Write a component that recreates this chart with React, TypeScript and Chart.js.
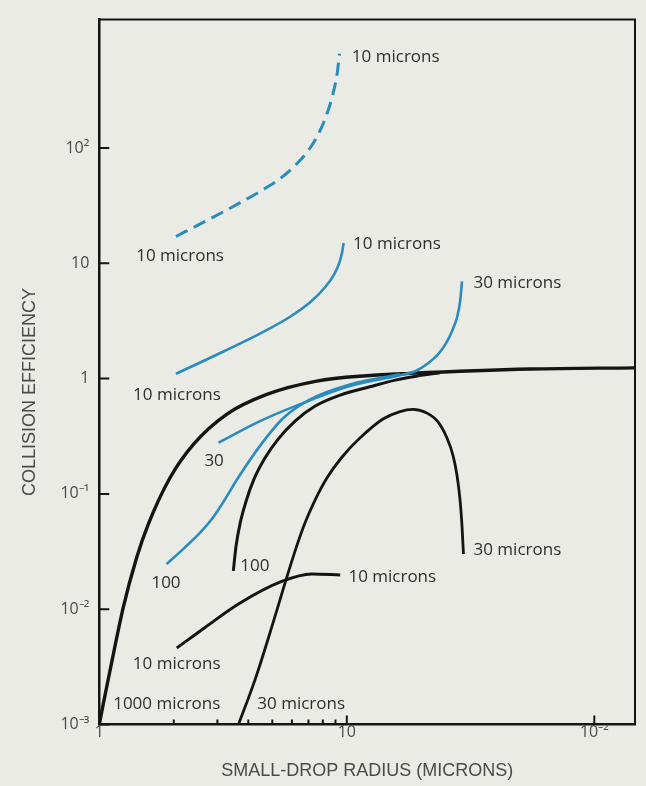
import React, { useEffect, useRef } from 'react';
import { Chart, registerables } from 'chart.js';

Chart.register(...registerables);

// ---- axis ticks ----
const xTickValues = [1, 10, 100];
const xTickLabels = ['1', '10', '10⁻²'];
const xMinorTicks = [2, 3, 4, 5, 6, 7, 8, 9];
const yTickValues = [0.001, 0.01, 0.1, 1, 10, 100];
const yTickLabels = ['10⁻³', '10⁻²', '10⁻¹', '1', '10', '10²'];

// ---- series (small-drop radius, collision efficiency) ----
const blueDashed10X = [2.04, 2.675, 3.54, 4.46, 5.38, 6.24, 7.04, 7.73, 8.32, 8.8, 9.14, 9.35];
const blueDashed10Y = [17.1, 23.1, 31.8, 42.0, 54.4, 72.0, 97.1, 136, 199, 296, 442, 658];

const blue10X = [2.04, 3.16, 4.58, 5.9, 7.11, 8.17, 8.89, 9.31, 9.57, 9.71];
const blue10Y = [1.1, 1.71, 2.53, 3.44, 4.59, 6.2, 8.03, 10.0, 12.4, 15.0];

const blue30X = [3.03, 4.46, 6.68, 10.3, 16.4, 18.9, 21.3, 23.4, 25.2, 26.6, 27.9, 28.7, 29.2];
const blue30Y = [0.278, 0.428, 0.616, 0.861, 1.07, 1.16, 1.36, 1.63, 2.03, 2.58, 3.41, 4.69, 6.98];

const blue100X = [1.87, 2.22, 2.55, 2.855, 3.19, 3.59, 4.46, 5.54, 7.11, 10.3, 16.4];
const blue100Y = [0.0246, 0.0344, 0.0459, 0.0608, 0.0869, 0.132, 0.261, 0.455, 0.661, 0.891, 1.09];

const black1000X = [1.0, 1.04, 1.105, 1.25, 1.416, 1.578, 1.931, 2.4, 3.27, 4.75, 7.56, 12.05, 18.0, 55.1, 146];
const black1000Y = [0.001, 0.00155, 0.00294, 0.01037, 0.0281, 0.0547, 0.138, 0.269, 0.49, 0.729, 0.951, 1.06, 1.11, 1.21, 1.24];

const black100X = [3.48, 3.57, 3.71, 3.92, 4.22, 4.67, 5.28, 6.18, 7.45, 9.4, 12.4, 15.7, 19.1, 23.8];
const black100Y = [0.0215, 0.0355, 0.0561, 0.0869, 0.135, 0.205, 0.299, 0.428, 0.578, 0.72, 0.85, 0.97, 1.05, 1.125];

const black30X = [3.65, 4.26, 4.98, 5.63, 6.24, 6.78, 7.45, 8.32, 9.57, 11.3, 14.0, 16.4, 18.5, 21.1, 23.4, 25.4, 26.9, 27.9, 28.7, 29.2, 29.6];
const black30Y = [0.001, 0.00245, 0.00705, 0.0169, 0.034, 0.0561, 0.0887, 0.138, 0.209, 0.305, 0.446, 0.518, 0.541, 0.502, 0.42, 0.305, 0.213, 0.143, 0.0869, 0.0528, 0.0301];

const black10X = [2.056, 2.675, 3.65, 5.46, 7.22, 9.4];
const black10Y = [0.00461, 0.00695, 0.0111, 0.0174, 0.0202, 0.0198];

// ---- curve annotations ----
const curveLabelText = ['10 microns', '10 microns', '10 microns', '10 microns', '30 microns', '30', '100', '100', '30 microns', '10 microns', '10 microns', '1000 microns', '30 microns'];
const curveLabelX = [10.48, 2.12, 10.6, 2.06, 32.5, 2.91, 1.86, 3.71, 32.5, 10.15, 2.055, 1.873, 4.35];
const curveLabelY = [620, 11.5, 14.6, 0.72, 6.67, 0.193, 0.0167, 0.0238, 0.0326, 0.0188, 0.00336, 0.00151, 0.00151];
const curveLabelAlign = ['left', 'center', 'left', 'center', 'left', 'center', 'center', 'left', 'left', 'left', 'center', 'center', 'left'];

const xTitle = 'SMALL-DROP RADIUS (MICRONS)';
const yTitle = 'COLLISION EFFICIENCY';

const BLUE = '#2a8cbd';
const BLACK = '#141414';
const BG = '#ebebe5';

const pts = (xs: number[], ys: number[]) => xs.map((x, i) => ({ x, y: ys[i] }));

function logLabel(values: number[], labels: string[], v: number) {
  const i = values.findIndex((t) => Math.abs(Math.log10(t) - Math.log10(v)) < 1e-6);
  return i >= 0 ? labels[i] : '';
}

const decorPlugin = {
  id: 'decor',
  afterDatasetsDraw(chart: any) {
    const { ctx, chartArea, scales } = chart;
    const xs = scales.x;
    const ys = scales.y;
    ctx.save();
    // curve labels
    ctx.fillStyle = '#2e2e2e';
    ctx.font = '17px "Open Sans", sans-serif';
    ctx.textBaseline = 'middle';
    curveLabelText.forEach((t, i) => {
      ctx.textAlign = curveLabelAlign[i];
      ctx.fillText(t, xs.getPixelForValue(curveLabelX[i]), ys.getPixelForValue(curveLabelY[i]));
    });
    // inward tick marks
    ctx.strokeStyle = BLACK;
    ctx.lineWidth = 2;
    ctx.beginPath();
    yTickValues.forEach((v) => {
      const py = ys.getPixelForValue(v);
      ctx.moveTo(chartArea.left, py);
      ctx.lineTo(chartArea.left + 10, py);
    });
    xTickValues.forEach((v) => {
      const px = xs.getPixelForValue(v);
      ctx.moveTo(px, chartArea.bottom);
      ctx.lineTo(px, chartArea.bottom - 9);
    });
    xMinorTicks.forEach((v) => {
      const px = xs.getPixelForValue(v);
      ctx.moveTo(px, chartArea.bottom);
      ctx.lineTo(px, chartArea.bottom - 5);
    });
    ctx.stroke();
    // top & right frame
    ctx.beginPath();
    ctx.moveTo(chartArea.left, chartArea.top);
    ctx.lineTo(chartArea.right, chartArea.top);
    ctx.lineTo(chartArea.right, chartArea.bottom);
    ctx.stroke();
    // y title
    ctx.fillStyle = '#4a4a4a';
    ctx.font = '18px "Liberation Sans", Arial, sans-serif';
    ctx.textAlign = 'center';
    ctx.translate(30, (chartArea.top + chartArea.bottom) / 2 + 20);
    ctx.rotate(-Math.PI / 2);
    ctx.fillText(yTitle, 0, 0);
    ctx.restore();
  },
};

export default function App() {
  const ref = useRef<HTMLCanvasElement>(null);
  useEffect(() => {
    const line = (data: any, color: string, width: number, dash: number[] = []) => ({
      data,
      borderColor: color,
      borderWidth: width,
      borderDash: dash,
      pointRadius: 0,
      fill: false,
      cubicInterpolationMode: 'monotone',
      borderCapStyle: 'butt',
    });
    const chart = new Chart(ref.current as HTMLCanvasElement, {
      type: 'line',
      data: {
        datasets: [
          line(pts(blueDashed10X, blueDashed10Y), BLUE, 3, [13, 7]),
          line(pts(blue10X, blue10Y), BLUE, 2.6),
          line(pts(blue30X, blue30Y), BLUE, 2.6),
          line(pts(blue100X, blue100Y), BLUE, 2.6),
          line(pts(black1000X, black1000Y), BLACK, 3.4),
          line(pts(black100X, black100Y), BLACK, 3),
          line(pts(black30X, black30Y), BLACK, 2.8),
          line(pts(black10X, black10Y), BLACK, 3),
        ] as any,
      },
      options: {
        responsive: false,
        animation: false,
        devicePixelRatio: 1,
        parsing: false as any,
        layout: { padding: { left: 0, right: 11, top: 18.5, bottom: 0 } },
        plugins: { legend: { display: false }, tooltip: { enabled: false } },
        scales: {
          x: {
            type: 'logarithmic',
            min: 1,
            max: 146,
            position: 'bottom',
            afterBuildTicks: (s: any) => {
              s.ticks = xTickValues.map((v) => ({ value: v }));
            },
            afterFit: (s: any) => {
              s.height = 61.5;
            },
            grid: { display: false, drawTicks: false },
            border: { display: true, color: BLACK, width: 2.5 },
            ticks: {
              autoSkip: false,
              maxRotation: 0,
              padding: -2,
              color: '#4a4a4a',
              font: { family: '"Open Sans", sans-serif', size: 16 },
              callback: (v: any) => logLabel(xTickValues, xTickLabels, Number(v)),
            },
            title: {
              display: true,
              text: xTitle,
              color: '#4a4a4a',
              font: { family: '"Liberation Sans", Arial, sans-serif', size: 18 },
              padding: { top: 0, bottom: 4 },
            },
          },
          y: {
            type: 'logarithmic',
            min: 0.001,
            max: 1300,
            position: 'left',
            afterBuildTicks: (s: any) => {
              s.ticks = yTickValues.map((v) => ({ value: v }));
            },
            afterFit: (s: any) => {
              s.width = 99.3;
            },
            grid: { display: false, drawTicks: false },
            border: { display: true, color: BLACK, width: 2.5 },
            ticks: {
              autoSkip: false,
              padding: 10,
              color: '#4a4a4a',
              font: { family: '"Open Sans", sans-serif', size: 16 },
              callback: (v: any) => logLabel(yTickValues, yTickLabels, Number(v)),
            },
          },
        },
      } as any,
      plugins: [decorPlugin],
    });
    return () => chart.destroy();
  }, []);
  return (
    <div style={{ position: 'absolute', left: 0, top: 0, width: 646, height: 786, background: BG }}>
      <canvas ref={ref} width={646} height={786} style={{ display: 'block', width: 646, height: 786 }} />
    </div>
  );
}
